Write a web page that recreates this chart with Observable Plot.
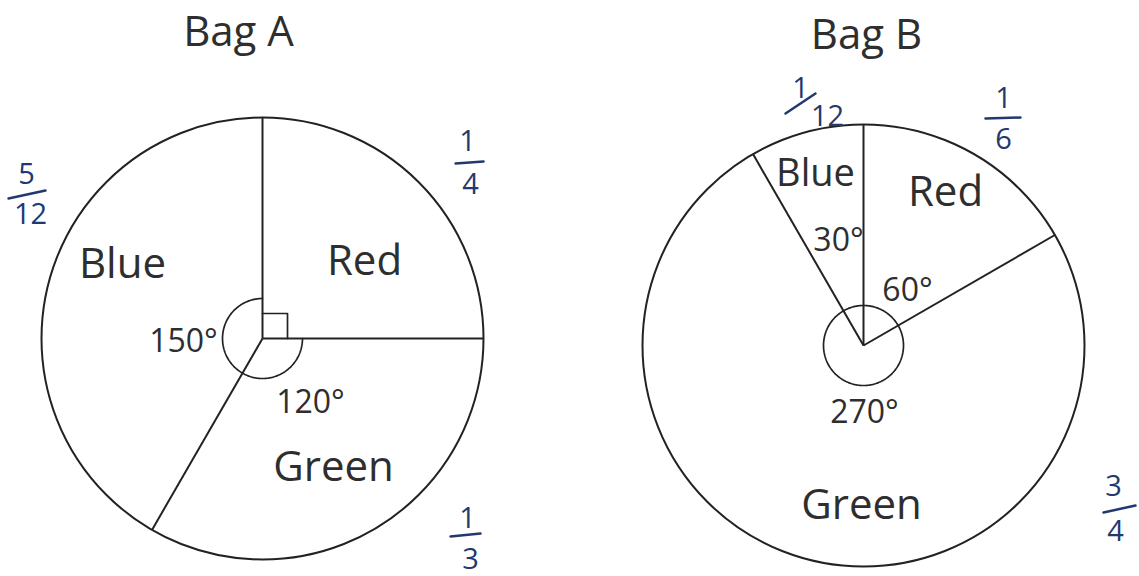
<!DOCTYPE html>
<html>
<head>
<meta charset="utf-8">
<script src="https://cdn.jsdelivr.net/npm/d3@7"></script>
<script src="https://cdn.jsdelivr.net/npm/@observablehq/plot@0.6"></script>
<style>
  html, body { margin: 0; padding: 0; background: #fff; }
  #chart svg { display: block; }
</style>
</head>
<body>
<div id="chart"></div>
<script>
// ---------- DATA ----------
const bags = ["Bag A", "Bag B"];
const colours = ["Red", "Green", "Blue"];           // clockwise from 12 o'clock
const bagADegrees = [90, 120, 150];
const bagBDegrees = [60, 270, 30];
const bagAFractions = ["1/4", "1/3", "5/12"];
const bagBFractions = ["1/6", "3/4", "1/12"];
const bagAAngleLabels = ["", "120°", "150°"];      // 90° shown by a right-angle box
const bagBAngleLabels = ["60°", "270°", "30°"];

// ---------- LAYOUT (pixels) ----------
const W = 1139, H = 576;
const R = 221;            // pie radius
const r0 = 40;            // angle-marker radius
const centers = {"Bag A": [262, 338], "Bag B": [863, 345]};
const titlePos = {"Bag A": [238, 45], "Bag B": [866, 48]};
// slice name labels: [dx, baseline dy, fontSize]
const nameLayout = {
  "Bag A": {Red: [102, -64, 42], Green: [71, 142, 42], Blue: [-140, -61, 42]},
  "Bag B": {Red: [82, -140, 42], Green: [-2, 173, 42], Blue: [-48, -160, 38]}
};
// degree labels: [dx, baseline dy]
const degLayout = {
  "Bag A": {Green: [48, 74], Blue: [-79, 13]},
  "Bag B": {Red: [44, -45], Green: [1, 77], Blue: [-25, -95]}
};
// fractions: [numX, numBase, denX, denBase, barX1, barY1, barX2, barY2]
const fracLayout = {
  "Bag A": {Red: [467, 150, 470, 193, 455, 163, 483, 161],
            Green: [467, 527, 470, 568, 450, 536, 480, 533],
            Blue: [26, 183, 30, 223, 8, 198, 45, 190]},
  "Bag B": {Red: [1003, 107, 1003, 148, 985, 118, 1020, 117],
            Green: [1113, 495, 1115, 540, 1103, 512, 1135, 505],
            Blue: [800, 97, 827, 125, 785, 113, 815, 93]}
};

// ---------- BUILD TABLES ----------
const degreesByBag = {"Bag A": bagADegrees, "Bag B": bagBDegrees};
const fracByBag = {"Bag A": bagAFractions, "Bag B": bagBFractions};
const angleLabelByBag = {"Bag A": bagAAngleLabels, "Bag B": bagBAngleLabels};

const rad = d => d * Math.PI / 180;
const px = (bag, a, rr) => centers[bag][0] + rr * Math.sin(rad(a));
const py = (bag, a, rr) => centers[bag][1] - rr * Math.cos(rad(a));

const slices = [];
for (const bag of bags) {
  let start = 0;
  degreesByBag[bag].forEach((deg, i) => {
    slices.push({bag, colour: colours[i], start, end: start + deg, deg,
                 frac: fracByBag[bag][i], angleLabel: angleLabelByBag[bag][i]});
    start += deg;
  });
}

const circles = bags.map(bag => ({bag, x: centers[bag][0], y: centers[bag][1]}));
const radii = slices.map(s => ({
  bag: s.bag,
  x1: centers[s.bag][0], y1: centers[s.bag][1],
  x2: px(s.bag, s.start, R), y2: py(s.bag, s.start, R)
}));

// angle-marker arcs: Bag A arc over the non-right-angle slices, Bag B full circle
const arcPts = [];
for (const bag of bags) {
  const ss = slices.filter(s => s.bag === bag && s.deg !== 90);
  const a0 = d3.min(ss, s => s.start), a1 = d3.max(ss, s => s.end);
  const span = bag === "Bag B" ? [0, 360] : [a0, a1];
  for (let a = span[0]; a <= span[1] + 1e-9; a += 2) {
    arcPts.push({bag, x: px(bag, a, r0), y: py(bag, a, r0)});
  }
}
// right-angle box(es)
const boxPts = [];
for (const s of slices.filter(s => s.deg === 90)) {
  const q = 25;
  const s0 = [Math.sin(rad(s.start)), -Math.cos(rad(s.start))];
  const s1 = [Math.sin(rad(s.end)), -Math.cos(rad(s.end))];
  const [cx, cy] = centers[s.bag];
  boxPts.push({x: cx + q * s0[0], y: cy + q * s0[1]});
  boxPts.push({x: cx + q * (s0[0] + s1[0]), y: cy + q * (s0[1] + s1[1])});
  boxPts.push({x: cx + q * s1[0], y: cy + q * s1[1]});
}

const nameLabels = slices.map(s => {
  const [dx, dy, fs] = nameLayout[s.bag][s.colour];
  return {text: s.colour, x: centers[s.bag][0] + dx, y: centers[s.bag][1] + dy, fs};
});
const degLabels = slices.filter(s => s.angleLabel).map(s => {
  const [dx, dy] = degLayout[s.bag][s.colour];
  return {text: s.angleLabel, x: centers[s.bag][0] + dx, y: centers[s.bag][1] + dy};
});
const fracText = [], fracBars = [];
for (const s of slices) {
  const [num, den] = s.frac.split("/");
  const L = fracLayout[s.bag][s.colour];
  fracText.push({text: num, x: L[0], y: L[1]});
  fracText.push({text: den, x: L[2], y: L[3]});
  fracBars.push({x1: L[4], y1: L[5], x2: L[6], y2: L[7]});
}
const titles = bags.map(bag => ({text: bag, x: titlePos[bag][0], y: titlePos[bag][1]}));

// ---------- PLOT ----------
const ink = "#222";
const blueInk = "#22396f";
const font = "'Comic Sans MS', 'Open Sans', sans-serif";

const chart = Plot.plot({
  width: W, height: H,
  margin: 0,
  x: {domain: [0, W], range: [0, W], axis: null},
  y: {domain: [0, H], range: [0, H], axis: null},
  style: {fontFamily: font, background: "#fff"},
  marks: [
    Plot.dot(circles, {x: "x", y: "y", r: R, fill: "white", stroke: ink, strokeWidth: 2}),
    Plot.link(radii, {x1: "x1", y1: "y1", x2: "x2", y2: "y2", stroke: ink, strokeWidth: 2}),
    Plot.line(arcPts, {x: "x", y: "y", z: "bag", stroke: ink, strokeWidth: 1.7, curve: "linear"}),
    Plot.line(boxPts, {x: "x", y: "y", stroke: ink, strokeWidth: 1.7}),
    Plot.text(titles, {x: "x", y: "y", text: "text", fontSize: 42, lineAnchor: "bottom", fill: "#2e2e2e"}),
    ...nameLabels.map(d => Plot.text([d], {x: "x", y: "y", text: "text", fontSize: d.fs, lineAnchor: "bottom", fill: "#2e2e2e"})),
    Plot.text(degLabels, {x: "x", y: "y", text: "text", fontSize: 32, lineAnchor: "bottom", fill: "#2e2e2e"}),
    Plot.link(fracBars, {x1: "x1", y1: "y1", x2: "x2", y2: "y2", stroke: blueInk, strokeWidth: 2.5, strokeLinecap: "round"}),
    Plot.text(fracText, {x: "x", y: "y", text: "text", fontSize: 29, lineAnchor: "bottom", fill: blueInk})
  ]
});
document.getElementById("chart").appendChild(chart);
</script>
</body>
</html>
